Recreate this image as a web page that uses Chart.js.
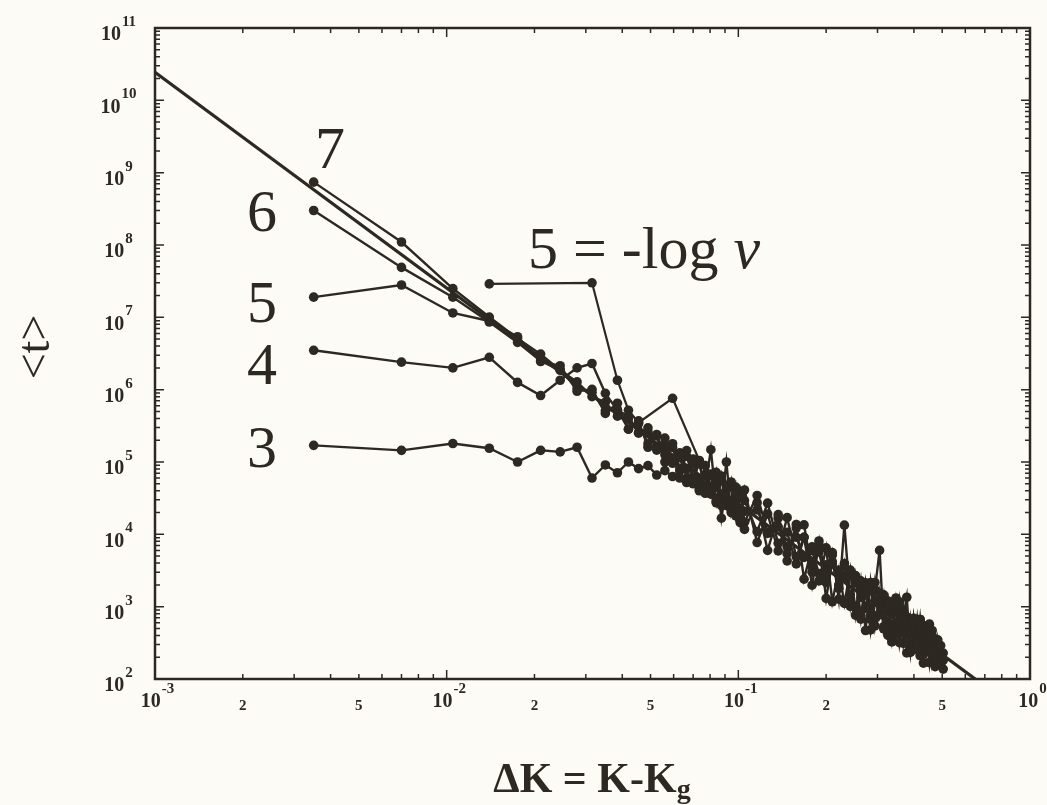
<!DOCTYPE html>
<html>
<head>
<meta charset="utf-8">
<script src="https://cdn.jsdelivr.net/npm/chart.js@4.4.1/dist/chart.umd.min.js"></script>
<style>
  html, body { margin: 0; padding: 0; background: #fcfbf6; }
  #wrap { width: 1047px; height: 805px; }
</style>
</head>
<body>
<div id="wrap"><canvas id="chart"></canvas></div>
<script>
// Data: <t> against dK = K - Kg, one curve per -log(nu)
const curveNames = ["3", "4", "5", "6", "7"];

const xK = [0.0035, 0.007, 0.0105, 0.014, 0.0175, 0.021, 0.0245, 0.028, 0.0315, 0.035,
  0.0385, 0.042, 0.0455, 0.049, 0.0525, 0.056, 0.0595, 0.063, 0.0665, 0.07, 0.0735, 0.077,
  0.0805, 0.084, 0.0875, 0.091, 0.0945, 0.098, 0.1015,
  0.105, 0.116, 0.126, 0.137, 0.147, 0.158, 0.168, 0.179, 0.189, 0.200, 0.210, 0.221, 0.231,
  0.242, 0.252, 0.263, 0.273, 0.284, 0.294, 0.305, 0.315, 0.326, 0.336, 0.347, 0.357, 0.368,
  0.378, 0.389, 0.399, 0.410, 0.420, 0.431, 0.441, 0.452, 0.462, 0.473, 0.483, 0.494, 0.504];

const t3 = [1.7e5, 1.45e5, 1.8e5, 1.55e5, 1.0e5, 1.45e5, 1.38e5, 1.6e5, 6.0e4, 9.1e4, 7.1e4, 1.0e5,
  8.1e4, 8.9e4, 6.6e4, 7.6e4, 6.3e4, 6.0e4, 5.2e4, 5.0e4, 4.0e4, 4.5e4, 1.48e5, 2.8e4, 2.5e4, 1.0e5,
  2.0e4, 3.5e4, 1.58e4,
  1.17e4, 2.74e4, 6.0e3, 1.87e4, 5.4e3, 1.37e4, 2.4e3, 6.7e3, 2.27e3, 6.5e3, 1.17e3, 3.2e3, 1.11e3,
  3.2e3, 765, 2.28e3, 468, 2.13e3, 543, 1.54e3, 495, 1.12e3, 325, 1.32e3, 318, 731, 1.35e3, 235,
  660, 254, 665, 166, 407, 169, 398, 166, 277, 163, 181];

const t4 = [3.5e6, 2.4e6, 2.0e6, 2.8e6, 1.26e6, 8.3e5, 1.35e6, 2.0e6, 2.3e6, 8.9e5, 5.2e5, 4.3e5,
  2.5e5, 2.97e5, 1.46e5, 2.14e5, 9.6e4, 1.34e5, 6.0e4, 1.1e5, 4.2e4, 8.9e4, 3.6e4, 7.2e4, 1.67e4, 4.7e4,
  2.25e4, 4.5e4, 1.45e4,
  4.1e4, 7.7e3, 1.91e4, 5.9e3, 1.7e4, 4.9e3, 9.1e3, 1.98e3, 7.2e3, 2.7e3, 5.6e3, 1.27e3, 1.34e4,
  1.22e3, 2.42e3, 673, 2.14e3, 675, 2.16e3, 770, 1.46e3, 400, 1.03e3, 417, 1.16e3, 312, 644, 235,
  690, 284, 665, 218, 490, 239, 468, 148, 348, 206, null];

const t5 = [1.9e7, 2.8e7, 1.15e7, 8.9e6, 5.4e6, 2.45e6, 2.14e6, 9.5e5, 1.01e6, 4.7e5, 6.5e5, 2.84e5,
  3.7e5, 1.6e5, 2.3e5, 1.0e5, 1.79e5, 8.1e4, 1.44e5, 5.5e4, 1.02e5, 3.7e4, 6.8e4, 2.73e4, 6.4e4, 2.5e4,
  5.3e4, 1.8e4, 3.9e4,
  1.47e4, 3.45e4, 1.07e4, 1.67e4, 4.3e3, 1.22e4, 1.35e4, 3.0e3, 8.1e3, 1.3e3, 4.2e3, 1.8e3, 3.95e3,
  1.01e3, 2.7e3, 755, 1.7e3, 478, 1.72e3, 6.0e3, 530, 1.2e3, 365, 1.17e3, 430, 880, 229, 665,
  288, 667, 210, 550, 245, 573, 178, 346, 175, 290, 137];

const t6 = [3.0e8, 4.9e7, 1.9e7, 8.6e6, 4.5e6, 2.5e6, 1.86e6, 1.04e6, 9.2e5, 5.1e5, 5.3e5, 2.84e5,
  3.4e5, 1.79e5, 2.4e5, 1.26e5, 1.59e5, 7.5e4, 1.2e5, 6.2e4, 9.5e4, 4.4e4, 6.5e4, 3.0e4, 5.7e4, 2.83e4,
  4.8e4, 2.02e4, 3.4e4,
  2.93e4, 1.09e4, 2.7e4, 7.5e3, 1.07e4, 3.9e3, 9.1e3, 3.8e3, 5.7e3, 2.15e3, 5.2e3, 1.8e3, 2.5e3,
  3.06e3, 960, 1.9e3, 955, 2.13e3, 685, 1.09e3, 1.24e3, 500, 915, 470, 960, 440, 720, 264,
  550, 305, 530, 245, 390, 240, 370, null, null, null, null];

const t7 = [7.4e8, 1.1e8, 2.5e7, 1.01e7, 5.1e6, 3.1e6, 1.86e6, 1.28e6, 8.0e5, 6.7e5, 4.3e5, 4.0e5,
  2.56e5, 2.6e5, 1.64e5, 1.74e5, 1.1e5, 1.28e5, 8.1e4, 9.4e4, 5.6e4, 6.7e4, 4.3e4, 5.7e4, 3.5e4, 4.3e4,
  2.5e4, 3.4e4, 2.1e4,
  2.07e4, 2.18e4, 1.03e4, 1.27e4, 6.8e3, 9.1e3, 4.8e3, 6.0e3, 2.86e3, 3.8e3, 3.9e3, 2.0e3, 2.67e3,
  1.47e3, 2.16e3, 1.34e3, 1.78e3, 950, 1.22e3, 810, 1.11e3, 600, 875, 590, 760, 440, 590, 390,
  550, 350, 450, 275, 363, 250, 324, 240, 277, 215, 228];

// short extra branch that starts near 3e7
const branchX = [0.014, 0.0315, 0.0385, 0.042, 0.0455, 0.0595, 0.0735, 0.084, 0.098];
const branchT = [2.9e7, 3.0e7, 1.35e6, 5.2e5, 3.5e5, 7.6e5, 1.05e5, 4.5e4, 2.9e4];

// straight reference line (slope about -3)
const refX = [0.001, 1.0];
const refT = [2.45e10, 27.5];

const xDecades = [-3, -2, -1, 0];
const yDecades = [2, 3, 4, 5, 6, 7, 8, 9, 10, 11];
const xLabeledMinor = [2, 5];

const INK = "#2e2822";
const SERIF = '"Liberation Serif", "DejaVu Serif", serif';

function pts(xs, ys) {
  return xs.map((x, i) => ({ x: x, y: ys[i] })).filter(p => p.y !== null);
}

const curves = [t3, t4, t5, t6, t7];

const datasets = [
  { label: "ref", data: pts(refX, refT), borderWidth: 3.2, pointRadius: 0 }
];
curves.forEach((ys, i) => {
  datasets.push({ label: curveNames[i], data: pts(xK, ys), borderWidth: 2.4, pointRadius: 4.8 });
});
datasets.push({ label: "branch", data: pts(branchX, branchT), borderWidth: 2.2, pointRadius: 4.8 });
datasets.forEach(d => {
  d.borderColor = INK;
  d.backgroundColor = INK;
  d.pointBorderWidth = 0;
  d.showLine = true;
});

function logTicks(decades) {
  const out = [];
  decades.forEach((e, i) => {
    const last = i === decades.length - 1;
    for (let m = 1; m <= (last ? 1 : 9); m++) out.push({ value: m * Math.pow(10, e) });
  });
  return out;
}

function isDecade(v) {
  const l = Math.log10(v);
  return Math.abs(l - Math.round(l)) < 1e-6;
}

function powLabel(ctx, exp, cx, cy) {
  ctx.font = "bold 20px " + SERIF;
  const wb = ctx.measureText("10").width;
  ctx.font = "bold 15px " + SERIF;
  const we = ctx.measureText(exp).width;
  const x0 = cx - (wb + we) / 2;
  ctx.textAlign = "left";
  ctx.textBaseline = "middle";
  ctx.font = "bold 20px " + SERIF;
  ctx.fillText("10", x0, cy + 7);
  ctx.font = "bold 15px " + SERIF;
  ctx.fillText(exp, x0 + wb + 1, cy - 6);
}

const decor = {
  id: "decor",
  afterDraw(chart) {
    const ctx = chart.ctx;
    const a = chart.chartArea;
    const xs = chart.scales.x, ys = chart.scales.y;
    ctx.save();
    ctx.strokeStyle = INK;
    ctx.fillStyle = INK;

    // frame
    ctx.lineWidth = 2.5;
    ctx.strokeRect(a.left, a.top, a.right - a.left, a.bottom - a.top);

    // inward ticks on all four sides
    ctx.lineWidth = 1.5;
    ctx.beginPath();
    xs.ticks.forEach(t => {
      const px = xs.getPixelForValue(t.value);
      const len = isDecade(t.value) ? 9 : 5;
      ctx.moveTo(px, a.bottom); ctx.lineTo(px, a.bottom - len);
      ctx.moveTo(px, a.top); ctx.lineTo(px, a.top + len);
    });
    ys.ticks.forEach(t => {
      const py = ys.getPixelForValue(t.value);
      const len = isDecade(t.value) ? 9 : 5;
      ctx.moveTo(a.left, py); ctx.lineTo(a.left + len, py);
      ctx.moveTo(a.right, py); ctx.lineTo(a.right - len, py);
    });
    ctx.stroke();

    // tick labels
    yDecades.forEach(e => {
      powLabel(ctx, String(e), 118, ys.getPixelForValue(Math.pow(10, e)));
    });
    xDecades.forEach((e, i) => {
      const v = Math.pow(10, e);
      powLabel(ctx, String(e), xs.getPixelForValue(v) + 2, 695);
      if (i < xDecades.length - 1) {
        xLabeledMinor.forEach(m => {
          ctx.font = "bold 15px " + SERIF;
          ctx.textAlign = "center";
          ctx.textBaseline = "middle";
          ctx.fillText(String(m), xs.getPixelForValue(m * v), 706);
        });
      }
    });

    // x title with subscript g
    ctx.font = "bold 42px " + SERIF;
    const mainTxt = "\u0394K = K-K";
    const wm = ctx.measureText(mainTxt).width;
    ctx.font = "bold 28px " + SERIF;
    const wg = ctx.measureText("g").width;
    const x0 = 592 - (wm + wg) / 2;
    ctx.textAlign = "left";
    ctx.textBaseline = "alphabetic";
    ctx.font = "bold 42px " + SERIF;
    ctx.fillText(mainTxt, x0, 792);
    ctx.font = "bold 28px " + SERIF;
    ctx.fillText("g", x0 + wm, 798);

    // y title <t>, rotated
    ctx.save();
    ctx.translate(37, 347);
    ctx.rotate(-Math.PI / 2);
    ctx.font = "46px " + SERIF;
    ctx.textAlign = "center";
    ctx.textBaseline = "middle";
    ctx.fillText("<t>", 0, 0);
    ctx.restore();

    // curve labels
    ctx.font = "60px " + SERIF;
    ctx.textAlign = "center";
    ctx.textBaseline = "alphabetic";
    ctx.fillText("7", 330, 168);
    ctx.fillText("6", 262, 231);
    ctx.fillText("5", 262, 322);
    ctx.fillText("4", 262, 384);
    ctx.fillText("3", 262, 467);
    ctx.textAlign = "left";
    const eq = "5 = -log ";
    ctx.fillText(eq, 528, 268);
    const we = ctx.measureText(eq).width;
    ctx.font = "italic 60px " + SERIF;
    ctx.fillText("\u03BD", 528 + we, 268);

    ctx.restore();
  }
};

new Chart(document.getElementById("chart"), {
  type: "scatter",
  data: { datasets },
  options: {
    responsive: true,
    maintainAspectRatio: false,
    animation: false,
    events: [],
    layout: { padding: { left: 0, right: 17, top: 28, bottom: 0 } },
    plugins: { legend: { display: false }, tooltip: { enabled: false } },
    scales: {
      x: {
        type: "logarithmic",
        min: 1e-3,
        max: 1,
        grid: { display: false },
        border: { display: false },
        ticks: { display: false },
        afterBuildTicks: s => { s.ticks = logTicks(xDecades); },
        afterFit: s => { s.height = 126; }
      },
      y: {
        type: "logarithmic",
        min: 1e2,
        max: 1e11,
        grid: { display: false },
        border: { display: false },
        ticks: { display: false },
        afterBuildTicks: s => { s.ticks = logTicks(yDecades); },
        afterFit: s => { s.width = 155; }
      }
    }
  },
  plugins: [decor]
});
</script>
</body>
</html>
